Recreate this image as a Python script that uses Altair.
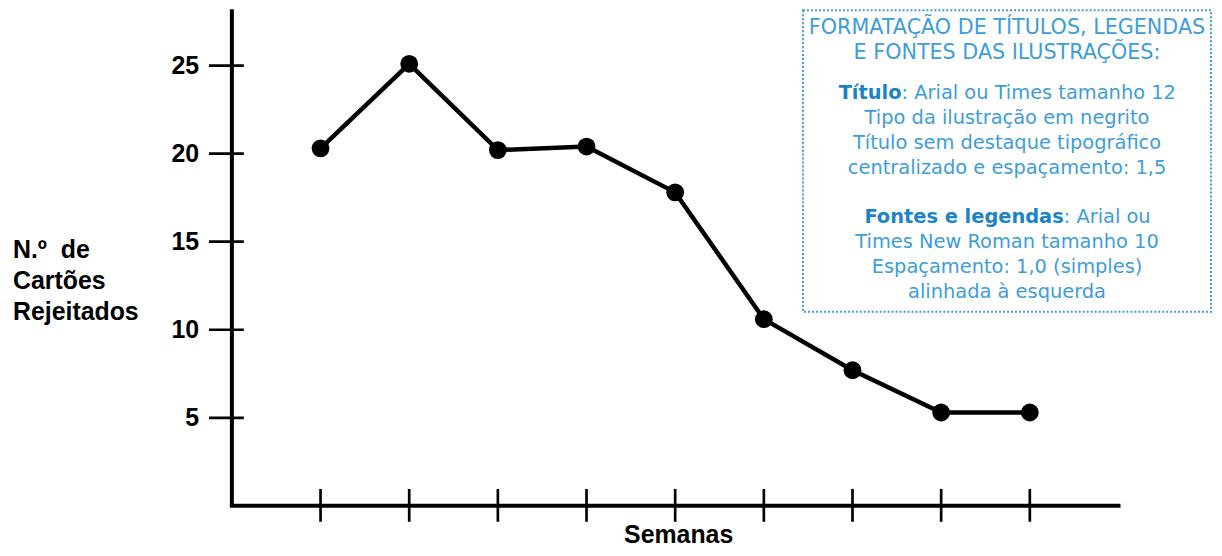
import altair as alt
import pandas as pd

# ---------------- data ----------------
weeks = [1, 2, 3, 4, 5, 6, 7, 8, 9]
rejected = [20.3, 25.1, 20.2, 20.4, 17.8, 10.6, 7.7, 5.3, 5.3]
y_tick_values = [5, 10, 15, 20, 25]
x_tick_values = [1, 2, 3, 4, 5, 6, 7, 8, 9]
x_axis_end = [10]
y_axis_top = [28.2]

y_title_lines = ["N.º\u00a0 de", "Cartões", "Rejeitados"]
x_title = "Semanas"

box_header = ["FORMATAÇÃO DE TÍTULOS, LEGENDAS", "E FONTES DAS ILUSTRAÇÕES:"]
block1_bold = "Título"
block1_first_rest = ": Arial ou Times tamanho 12"
block1_rest = ["Tipo da ilustração em negrito",
               "Título sem destaque tipográfico",
               "centralizado e espaçamento: 1,5"]
block2_bold = "Fontes e legendas"
block2_first_rest = ": Arial ou"
block2_rest = ["Times New Roman tamanho 10",
               "Espaçamento: 1,0 (simples)",
               "alinhada à esquerda"]

# ---------------- layout ----------------
PX_X = 89.1
PX_Y = 17.7
W = 987
H = 497
FONT = "Liberation Sans"
BOX_FONT = "DejaVu Sans"
BLUE = "#3d9dd9"
BLUE_BOLD = "#1a84c6"

xs = alt.Scale(domain=[0, W / PX_X], nice=False, zero=False)
ys = alt.Scale(domain=[0, H / PX_Y], nice=False, zero=False)

df = pd.DataFrame({"week": weeks, "rej": rejected})
base = alt.Chart(df)

line = base.mark_line(color="black", strokeWidth=4.5).encode(
    x=alt.X("week:Q", scale=xs, axis=None),
    y=alt.Y("rej:Q", scale=ys, axis=None),
)

points = base.mark_circle(color="black", opacity=1, size=320).encode(
    x=alt.X("week:Q", scale=xs, axis=None),
    y=alt.Y("rej:Q", scale=ys, axis=None),
)

x_axis_line = alt.Chart(pd.DataFrame({"a": [0], "b": x_axis_end, "c": [0]})).mark_rule(
    color="black", strokeWidth=4, strokeCap="square").encode(
    x=alt.X("a:Q", scale=xs, axis=None), x2="b:Q",
    y=alt.Y("c:Q", scale=ys, axis=None))

y_axis_line = alt.Chart(pd.DataFrame({"a": [0], "b": y_axis_top, "c": [0]})).mark_rule(
    color="black", strokeWidth=4, strokeCap="butt").encode(
    y=alt.Y("a:Q", scale=ys, axis=None), y2="b:Q",
    x=alt.X("c:Q", scale=xs, axis=None))

x_ticks = alt.Chart(pd.DataFrame({"w": x_tick_values})).mark_rule(
    color="black", strokeWidth=2.7).encode(
    x=alt.X("w:Q", scale=xs, axis=None),
    y=alt.value(H - 17), y2=alt.value(H + 16))

y_ticks = alt.Chart(pd.DataFrame({"v": y_tick_values})).mark_rule(
    color="black", strokeWidth=2.7).encode(
    y=alt.Y("v:Q", scale=ys, axis=None),
    x=alt.value(-23), x2=alt.value(12))

y_labels = alt.Chart(pd.DataFrame({"v": y_tick_values})).mark_text(
    font=FONT, fontSize=25, fontWeight="bold", color="black",
    align="right", baseline="middle").encode(
    y=alt.Y("v:Q", scale=ys, axis=None),
    x=alt.value(-33), text=alt.Text("v:Q", format="d"))

x_title_mark = alt.Chart(pd.DataFrame({"t": [x_title]})).mark_text(
    font=FONT, fontSize=25, fontWeight="bold", color="black",
    align="center", baseline="alphabetic").encode(
    text="t:N", x=alt.value(449), y=alt.value(H + 37))

y_title_marks = [
    alt.Chart(pd.DataFrame({"t": [s]})).mark_text(
        font=FONT, fontSize=25, fontWeight="bold", color="black",
        align="left", baseline="alphabetic").encode(
        text="t:N", x=alt.value(-220), y=alt.value(248 + 31 * i))
    for i, s in enumerate(y_title_lines)
]

box = alt.Chart(pd.DataFrame({"k": [0]})).mark_rect(
    filled=False, stroke=BLUE, strokeWidth=2, strokeDash=[2, 2]).encode(
    x=alt.value(574), x2=alt.value(984), y=alt.value(-1), y2=alt.value(302))

CX = 779
LH = 25
BODY = 19.5


def txt(text, x, y, align="center", bold=False, size=BODY):
    return alt.Chart(pd.DataFrame({"t": [text]})).mark_text(
        font=BOX_FONT, fontSize=size, align=align, baseline="alphabetic",
        fontWeight="bold" if bold else "normal",
        color=BLUE_BOLD if bold else BLUE).encode(
        text="t:N", x=alt.value(x), y=alt.value(y))


texts = []
for i, s in enumerate(box_header):
    texts.append(txt(s, CX, 23 + i * LH, size=20.8))
texts.append(txt(block1_bold, CX - 106, 88, align="right", bold=True))
texts.append(txt(block1_first_rest, CX - 106, 88, align="left"))
for i, s in enumerate(block1_rest):
    texts.append(txt(s, CX, 113 + i * LH))
texts.append(txt(block2_bold, CX + 57, 213, align="right", bold=True))
texts.append(txt(block2_first_rest, CX + 57, 213, align="left"))
for i, s in enumerate(block2_rest):
    texts.append(txt(s, CX, 238 + i * LH))

chart = alt.layer(line, x_axis_line, y_axis_line, x_ticks, y_ticks, points,
                  y_labels, x_title_mark, *y_title_marks, box, *texts).properties(
    width=W, height=H,
    autosize=alt.AutoSizeParams(type="none"),
    padding={"left": 225, "top": 2, "right": 0, "bottom": 40},
).configure_view(stroke=None).configure_axis(grid=False)

chart.save("out.html", embed_options={"renderer": "svg", "actions": False})
